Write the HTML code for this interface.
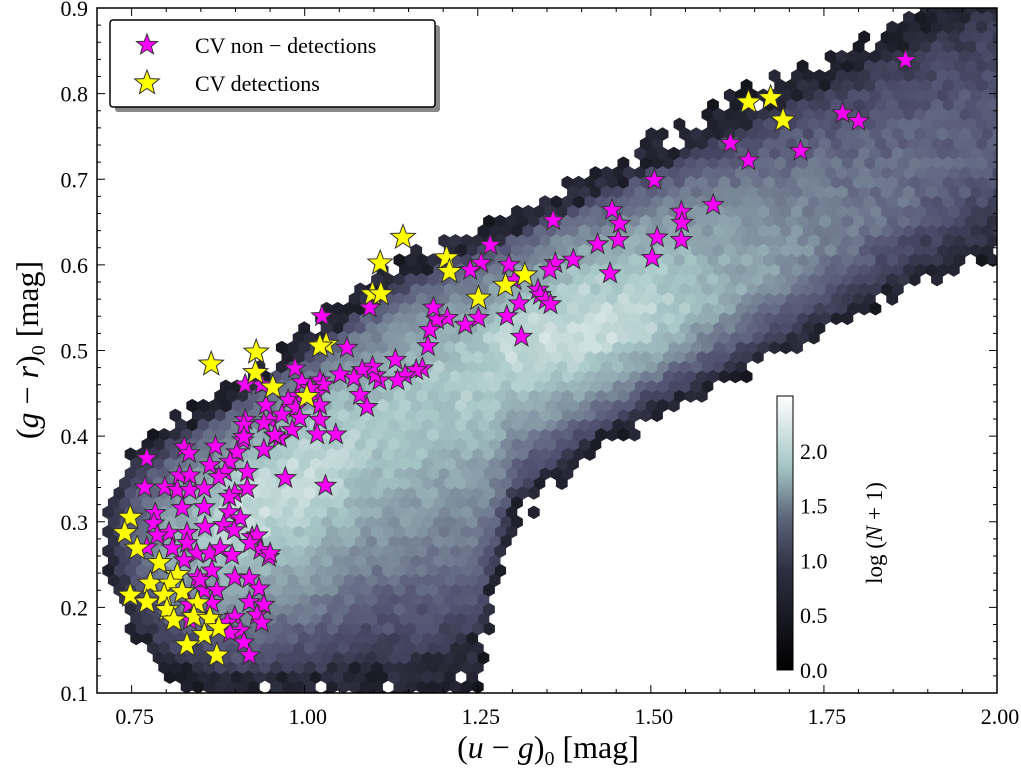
<!DOCTYPE html>
<html><head><meta charset="utf-8">
<style>
html,body{margin:0;padding:0;background:#fff;}
svg{display:block;font-family:"Liberation Serif",serif;}
</style></head>
<body>
<svg id="chart" width="1021" height="775" viewBox="0 0 1021 775" xmlns="http://www.w3.org/2000/svg">
  <defs>
    <clipPath id="plotclip"><rect x="97" y="8" width="900" height="685"/></clipPath>
    <linearGradient id="bonegrad" x1="0" y1="1" x2="0" y2="0">
      <stop offset="0" stop-color="#000000"/>
      <stop offset="0.365" stop-color="#2f2f42"/>
      <stop offset="0.55" stop-color="#5a6478"/>
      <stop offset="0.746" stop-color="#a6c6c6"/>
      <stop offset="1" stop-color="#ffffff"/>
    </linearGradient>
  </defs>
  <g id="hexes" clip-path="url(#plotclip)"></g>
  <g id="stars" clip-path="url(#plotclip)"></g>
  <rect x="97" y="8" width="900" height="685" fill="none" stroke="#000" stroke-width="1.5"/>
  <g id="axes"></g>
  <g>
    <rect x="777" y="396" width="16" height="274" fill="url(#bonegrad)" stroke="#000" stroke-width="1"/>
    <g id="cbticks"></g>
    <text transform="translate(882,533) rotate(-90)" text-anchor="middle" font-size="23">log (<tspan font-style="italic">N</tspan> + 1)</text>
  </g>
  <g>
    <rect x="115" y="25" width="325" height="87" fill="#888" rx="3"/>
    <rect x="110" y="20" width="325" height="87" fill="#fff" stroke="#000" stroke-width="1.5" rx="3"/>
    <g id="legstars"></g>
    <text x="195" y="53" font-size="22">CV non − detections</text>
    <text x="195" y="91" font-size="22">CV detections</text>
  </g>
  <text x="548" y="758" text-anchor="middle" font-size="32">(<tspan font-style="italic">u</tspan> − <tspan font-style="italic">g</tspan>)<tspan font-size="20" dy="7">0</tspan><tspan dy="-7"> [mag]</tspan></text>
  <text transform="translate(38,350) rotate(-90)" text-anchor="middle" font-size="32">(<tspan font-style="italic">g</tspan> − <tspan font-style="italic">r</tspan>)<tspan font-size="20" dy="7">0</tspan><tspan dy="-7"> [mag]</tspan></text>
</svg>
<script>
// ---- data ----
const xTicks = [0.75, 1.00, 1.25, 1.50, 1.75, 2.00];
const xTickLabels = ["0.75", "1.00", "1.25", "1.50", "1.75", "2.00"];
const yTicks = [0.1, 0.2, 0.3, 0.4, 0.5, 0.6, 0.7, 0.8, 0.9];
const yTickLabels = ["0.1", "0.2", "0.3", "0.4", "0.5", "0.6", "0.7", "0.8", "0.9"];
const cbTicks = [0.0, 0.5, 1.0, 1.5, 2.0];
const cbTickLabels = ["0.0", "0.5", "1.0", "1.5", "2.0"];
// density ridge
const ridgeU =      [0.72, 0.75, 0.80, 0.90, 1.00, 1.10, 1.20, 1.25, 1.30, 1.40, 1.50, 1.60, 1.70, 1.80, 1.90, 2.00];
const ridgeCenter = [0.28, 0.28, 0.27, 0.30, 0.34, 0.40, 0.45, 0.47, 0.49, 0.51, 0.53, 0.56, 0.60, 0.64, 0.69, 0.73];
const ridgeUpper =  [0.33, 0.38, 0.41, 0.46, 0.52, 0.59, 0.63, 0.64, 0.66, 0.70, 0.74, 0.78, 0.82, 0.86, 0.90, 0.93];
const ridgeLower =  [0.23, 0.17, 0.12, 0.09, 0.09, 0.09, 0.09, 0.12, 0.30, 0.37, 0.42, 0.46, 0.50, 0.54, 0.58, 0.61];
const ridgePeak =   [0.6, 1.0, 1.6, 2.1, 2.1, 1.9, 1.9, 1.95, 2.05, 2.15, 2.0, 1.7, 1.45, 1.25, 1.1, 1.0];
const nonDetU = [1.868,1.777,1.800,1.716,1.615,1.641,1.505,1.590,1.544,1.545,1.544,1.444,1.455,1.453,1.423,1.509,1.502,1.441,1.388,1.362,1.354,1.359,1.268,1.255,1.239,1.295,1.303,1.337,1.340,1.348,1.355,1.310,1.292,1.313,1.251,1.232,1.206,1.191,1.181,1.186,1.178,1.170,1.161,1.145,1.131,1.134,1.108,1.102,1.098,1.083,1.071,1.051,1.080,1.090,1.061,1.094,1.025,1.022,1.027,1.017,1.022,1.022,1.018,1.045,0.989,0.976,0.987,0.993,0.982,0.964,0.950,0.967,0.944,0.938,0.914,0.986,0.996,1.008,0.957,0.941,0.914,0.911,0.972,1.030,
0.772,0.826,0.833,0.871,0.902,0.912,0.912,0.941,0.957,0.863,0.892,0.885,0.876,0.917,0.819,0.834,0.769,0.798,0.816,0.834,0.855,0.899,0.917,0.823,0.855,0.891,0.907,0.784,0.782,0.804,0.830,0.856,0.883,0.898,0.924,0.931,0.936,0.948,0.921,0.787,0.772,0.809,0.830,0.844,0.863,0.878,0.895,0.866,0.845,0.826,0.899,0.920,0.934,0.855,0.873,0.920,0.941,0.931,0.938,0.899,0.888,0.907,0.892,0.912,0.920,0.866,0.833,0.834,0.849,0.950,0.891];
const nonDetGR = [0.839,0.777,0.768,0.733,0.742,0.722,0.699,0.670,0.662,0.649,0.629,0.664,0.648,0.629,0.624,0.632,0.608,0.590,0.606,0.602,0.594,0.652,0.623,0.602,0.594,0.600,0.582,0.571,0.565,0.559,0.554,0.555,0.540,0.516,0.538,0.530,0.538,0.536,0.524,0.550,0.505,0.479,0.477,0.471,0.489,0.465,0.465,0.471,0.481,0.477,0.468,0.472,0.448,0.434,0.503,0.550,0.540,0.465,0.460,0.449,0.436,0.419,0.402,0.402,0.447,0.442,0.433,0.421,0.407,0.398,0.419,0.425,0.436,0.460,0.460,0.479,0.463,0.456,0.400,0.384,0.419,0.395,0.351,0.342,
0.374,0.387,0.380,0.388,0.381,0.413,0.399,0.415,0.401,0.366,0.370,0.358,0.352,0.358,0.354,0.354,0.340,0.340,0.337,0.337,0.339,0.333,0.339,0.316,0.317,0.311,0.304,0.310,0.298,0.287,0.287,0.294,0.296,0.290,0.282,0.284,0.267,0.259,0.275,0.284,0.270,0.269,0.275,0.263,0.263,0.269,0.261,0.243,0.235,0.255,0.235,0.234,0.222,0.220,0.220,0.206,0.203,0.191,0.182,0.189,0.182,0.173,0.170,0.159,0.144,0.205,0.203,0.185,0.232,0.263,0.329];
const detU = [1.641,1.673,1.691,1.142,1.205,1.209,1.109,1.098,1.110,1.251,1.318,1.290,1.031,1.022,0.930,0.865,0.929,0.954,1.003,
0.748,0.740,0.758,0.790,0.777,0.748,0.772,0.816,0.806,0.797,0.823,0.845,0.801,0.811,0.840,0.863,0.855,0.876,0.830,0.873];
const detGR = [0.790,0.795,0.769,0.632,0.608,0.592,0.602,0.566,0.566,0.561,0.588,0.576,0.507,0.505,0.498,0.484,0.474,0.457,0.446,
0.305,0.287,0.269,0.252,0.228,0.214,0.206,0.238,0.228,0.214,0.218,0.205,0.197,0.185,0.189,0.187,0.168,0.176,0.156,0.144];

// ---- scales ----
const X0 = 97, X1 = 997, Y0 = 693, Y1 = 8;
const xmin = 0.7, xmax = 2.0, ymin = 0.1, ymax = 0.9;
const sx = v => X0 + (v - xmin) / (xmax - xmin) * (X1 - X0);
const sy = v => Y0 - (v - ymin) / (ymax - ymin) * (Y0 - Y1);
const ix = p => xmin + (p - X0) / (X1 - X0) * (xmax - xmin);
const iy = p => ymin + (Y0 - p) / (Y0 - Y1) * (ymax - ymin);
const NS = "http://www.w3.org/2000/svg";
const vmax = 2.5;

function bone(t) {
  t = Math.max(0, Math.min(1, t));
  const lerp = (pts) => { for (let i = 1; i < pts.length; i++) { if (t <= pts[i][0]) { const a = pts[i-1], b = pts[i]; return a[1] + (b[1]-a[1]) * (t-a[0])/(b[0]-a[0]); } } return 1; };
  const r = lerp([[0,0],[0.746,0.652],[1,1]]);
  const g = lerp([[0,0],[0.365,0.319],[0.746,0.777],[1,1]]);
  const b = lerp([[0,0],[0.365,0.444],[1,1]]);
  return `rgb(${Math.round(r*255)},${Math.round(g*255)},${Math.round(b*255)})`;
}
function interp(arr, u) {
  if (u <= ridgeU[0]) return arr[0];
  for (let i = 1; i < ridgeU.length; i++) if (u <= ridgeU[i]) { const f = (u - ridgeU[i-1])/(ridgeU[i]-ridgeU[i-1]); return arr[i-1] + f*(arr[i]-arr[i-1]); }
  return arr[arr.length-1];
}
function hash(a, b) { const s = Math.sin(a*127.1 + b*311.7) * 43758.5453; return s - Math.floor(s); }

// ---- hexbin ----
const hexG = document.getElementById('hexes');
const hw = 11.2, hr = hw / Math.sqrt(3), rowH = 1.5 * hr;
let hexPaths = {};
for (let row = 0; row * rowH < 700; row++) {
  const cy = Y1 + row * rowH;
  const off = (row % 2) ? hw / 2 : 0;
  for (let col = -1; X0 + col * hw < X1 + hw; col++) {
    const cx = X0 + col * hw + off;
    const u = ix(cx), gr = iy(cy);
    if (u < 0.715) continue;
    const c = interp(ridgeCenter, u), up = interp(ridgeUpper, u), lo = interp(ridgeLower, u), pk = interp(ridgePeak, u);
    const n = hash(row, col);
    const above = gr >= c;
    const t = above ? (gr - c) / (up - c) : (c - gr) / (c - lo);
    const lim = 0.92 + 0.16 * n;
    if (t > lim) continue;
    const fall = above ? Math.max(0, 1 - t*t) : Math.max(0, 1 - Math.pow(t, 1.3));
    let val = 0.35 + (pk - 0.35) * fall + (hash(col, row) - 0.5) * 0.25;
    if (t > 0.85) val = Math.min(val, 0.3 + 0.3 * n);
    const col_ = bone(val / vmax);
    let d = '';
    for (let k = 0; k < 6; k++) { const a = Math.PI/6 + k*Math.PI/3; d += (k ? 'L' : 'M') + (cx + (hr+0.3)*Math.cos(a)).toFixed(1) + ' ' + (cy + (hr+0.3)*Math.sin(a)).toFixed(1); }
    d += 'Z';
    hexPaths[col_] = (hexPaths[col_] || '') + d;
  }
}
for (const c in hexPaths) {
  const p = document.createElementNS(NS, 'path');
  p.setAttribute('d', hexPaths[c]);
  p.setAttribute('fill', c);
  
  
  hexG.appendChild(p);
}

// ---- stars ----
function starPath(cx, cy, R) {
  let d = '';
  for (let k = 0; k < 10; k++) { const rr = k % 2 ? R * 0.42 : R; const a = -Math.PI/2 + k*Math.PI/5; d += (k ? 'L' : 'M') + (cx + rr*Math.cos(a)).toFixed(1) + ' ' + (cy + rr*Math.sin(a)).toFixed(1); }
  return d + 'Z';
}
function addStar(g, cx, cy, R, fill, name) {
  const p = document.createElementNS(NS, 'path');
  p.setAttribute('d', starPath(cx, cy, R));
  p.setAttribute('fill', fill);
  p.setAttribute('stroke', '#333');
  p.setAttribute('stroke-width', '1');
  
  
  g.appendChild(p);
}
const starG = document.getElementById('stars');
for (let i = 0; i < nonDetU.length; i++) addStar(starG, sx(nonDetU[i]), sy(nonDetGR[i]), 11, '#ff00ff', 'non-detection-star');
for (let i = 0; i < detU.length; i++) addStar(starG, sx(detU[i]), sy(detGR[i]), 13, '#ffff00', 'detection-star');
const lg = document.getElementById('legstars');
addStar(lg, 147, 45, 11, '#ff00ff', 'legend-marker-non-detections');
addStar(lg, 147, 83, 13, '#ffff00', 'legend-marker-detections');

// ---- axes ----
const ax = document.getElementById('axes');
function line(x1, y1, x2, y2, name) {
  const l = document.createElementNS(NS, 'line');
  l.setAttribute('x1', x1); l.setAttribute('y1', y1); l.setAttribute('x2', x2); l.setAttribute('y2', y2);
  l.setAttribute('stroke', '#000'); l.setAttribute('stroke-width', '1');
  
  
  ax.appendChild(l);
}
function text(x, y, s, anchor, name, parent) {
  const t = document.createElementNS(NS, 'text');
  t.setAttribute('x', x); t.setAttribute('y', y); t.setAttribute('text-anchor', anchor);
  t.setAttribute('font-size', '22');
  t.textContent = s;
  
  
  (parent || ax).appendChild(t);
}
for (let v = 0.70; v <= 2.001; v += 0.05) {
  const major = Math.abs(v*4 - Math.round(v*4)) < 1e-6;
  const L = major ? 8 : 4;
  line(sx(v), Y0, sx(v), Y0 - L, 'x-tick'); line(sx(v), Y1, sx(v), Y1 + L, 'x-tick-top');
}
xTicks.forEach((v, i) => text(sx(v) + 3, 724, xTickLabels[i], 'middle', 'x-tick-label'));
for (let v = 0.1; v <= 0.901; v += 0.02) {
  const major = Math.abs(v*10 - Math.round(v*10)) < 1e-6;
  const L = major ? 8 : 4;
  line(X0, sy(v), X0 + L, sy(v), 'y-tick'); line(X1, sy(v), X1 - L, sy(v), 'y-tick-right');
}
yTicks.forEach((v, i) => text(88, sy(v) + 8, yTickLabels[i], 'end', 'y-tick-label'));
const cbg = document.getElementById('cbticks');
cbTicks.forEach((v, i) => {
  const y = 670 - v / vmax * 274;
  text(800, y + 8, cbTickLabels[i], 'start', 'colorbar-tick-label', cbg);
});
</script>
</body></html>
